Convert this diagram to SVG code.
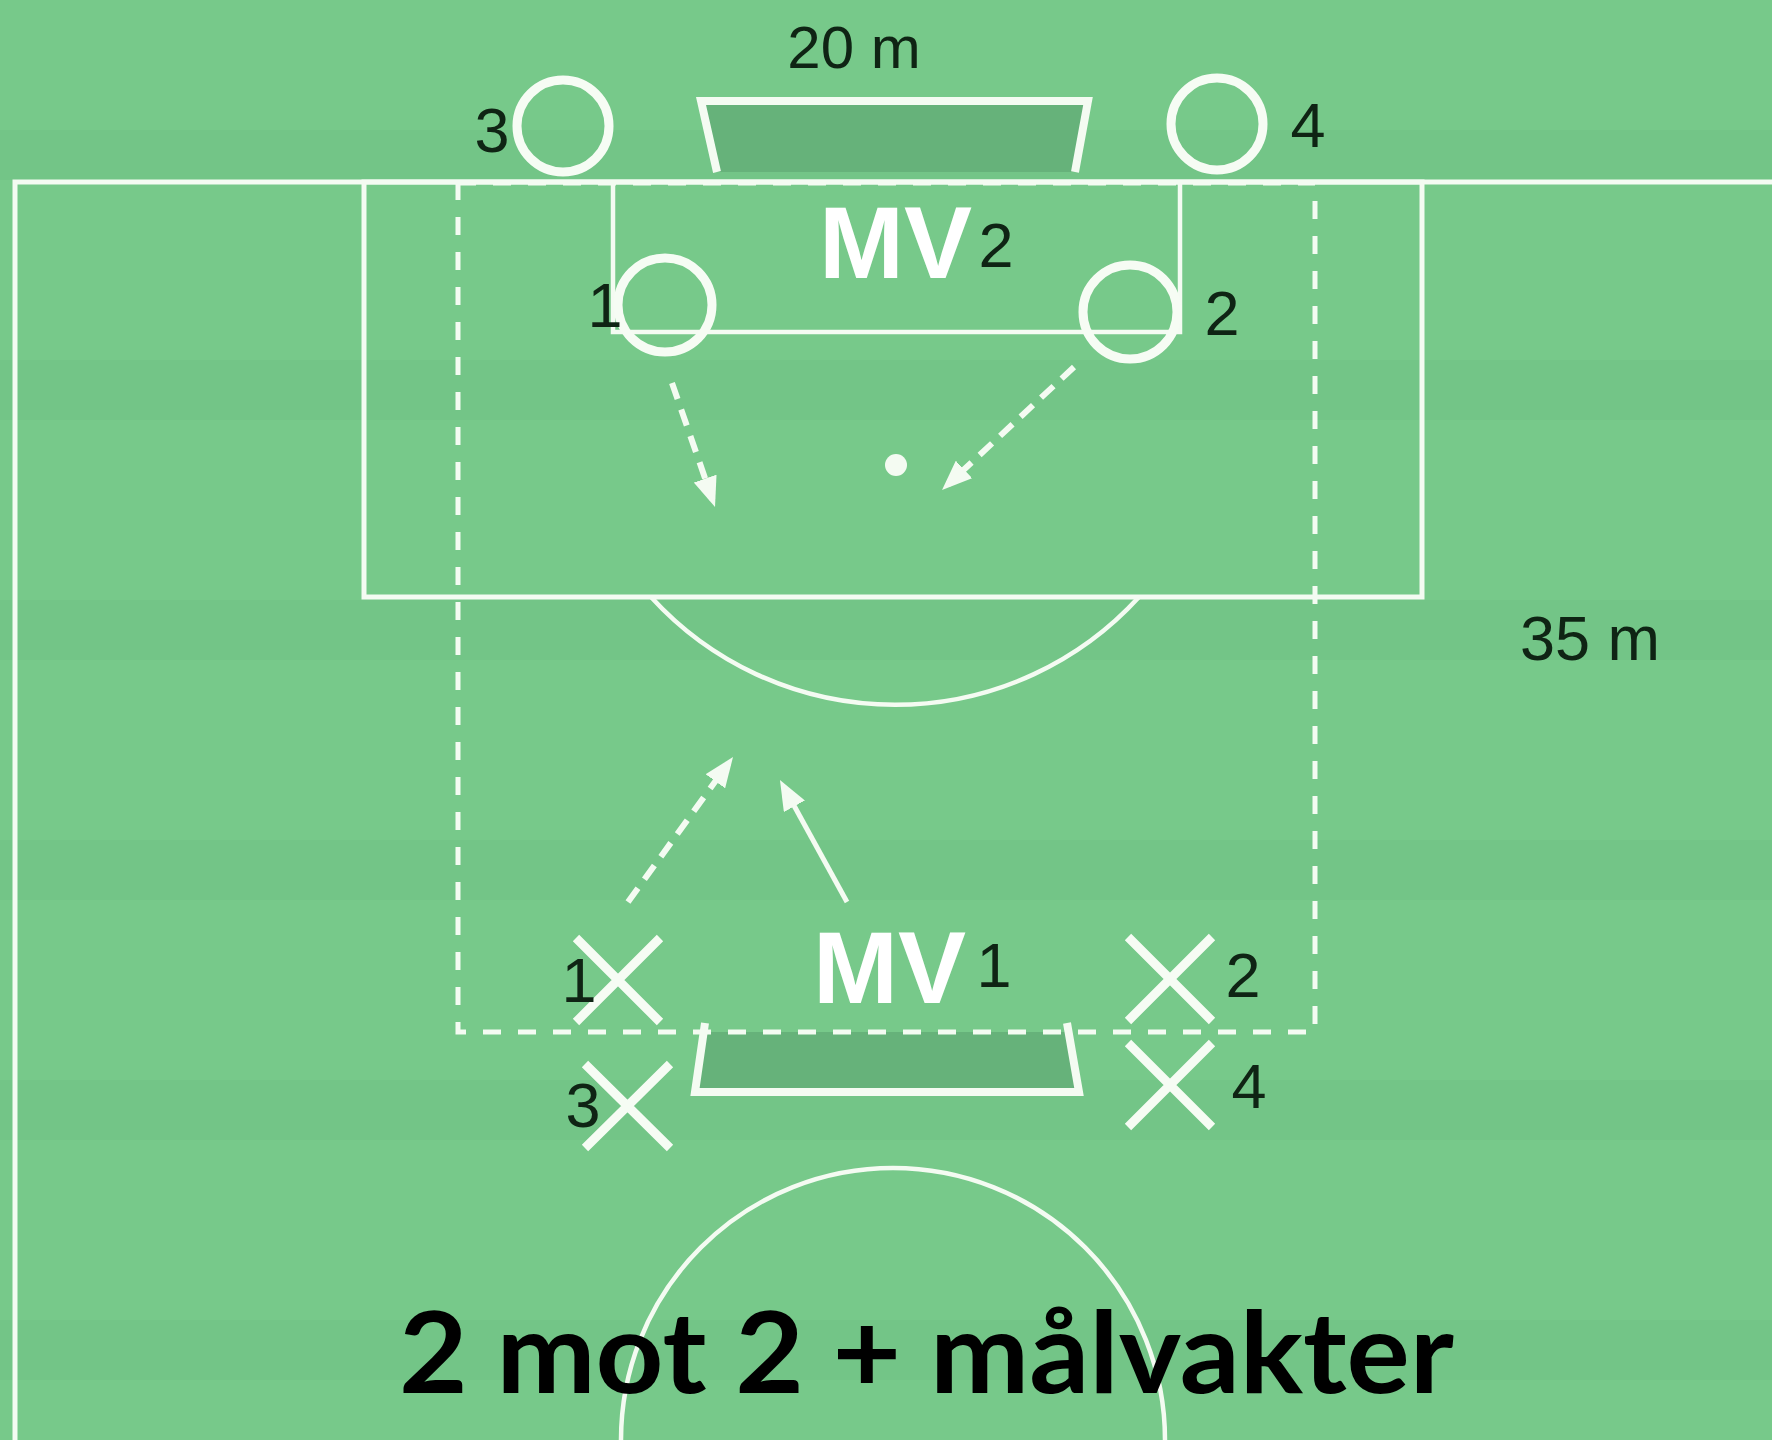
<svg xmlns="http://www.w3.org/2000/svg" width="1772" height="1440" viewBox="0 0 1772 1440">
  <defs>
    <style>
      .line { fill: none; stroke: #F4FBF2; stroke-width: 5; }
      .thin { fill: none; stroke: #F4FBF2; stroke-width: 4.5; }
      .dash { fill: none; stroke: #F4FBF2; stroke-width: 5; stroke-dasharray: 18 17; }
      .goal { fill: none; stroke: #F4FBF2; stroke-width: 8; stroke-linejoin: miter; }
      .ring { fill: none; stroke: #F6FCF4; stroke-width: 9; }
      .cross { stroke: #F6FCF4; stroke-width: 9; stroke-linecap: butt; }
      .num { font-family: "Liberation Sans", Arial, sans-serif; font-size: 63px; fill: #0F2414; text-anchor: middle; }
      .mv { font-family: "Liberation Sans", Arial, sans-serif; font-size: 102px; font-weight: bold; fill: #FFFFFF; }
      .dim { font-family: "Liberation Sans", Arial, sans-serif; font-size: 60px; fill: #0F2414; text-anchor: middle; }
      .title { font-family: Lato, "Liberation Sans", sans-serif; font-size: 113px; font-weight: bold; fill: #000000; }
      .move { fill: none; stroke: #F4FBF2; stroke-width: 6; stroke-dasharray: 17 11; }
      .run { fill: none; stroke: #F4FBF2; stroke-width: 5; }
    </style>
    <marker id="head" markerUnits="userSpaceOnUse" viewBox="0 0 30 24" markerWidth="30" markerHeight="24" refX="22" refY="12" orient="auto">
      <path d="M0,0 L30,12 L0,24 z" fill="#F4FBF2"/>
    </marker>
  </defs>

  <!-- background -->
  <rect x="0" y="0" width="1772" height="1440" fill="#77C98A"/>
  <g id="stripes" fill="#6FC183" opacity="0.45">
    <rect x="0" y="130" width="1772" height="50"/>
    <rect x="0" y="360" width="1772" height="60"/>
    <rect x="0" y="600" width="1772" height="60"/>
    <rect x="0" y="840" width="1772" height="60"/>
    <rect x="0" y="1080" width="1772" height="60"/>
    <rect x="0" y="1320" width="1772" height="60"/>
  </g>

  <!-- pitch markings -->
  <g id="pitch">
    <path class="line" d="M15,1440 L15,182 L1772,182"/>
    <rect class="line" x="364" y="182" width="1058" height="415"/>
    <path class="thin" d="M613,182 L613,332 L1180,332 L1180,182"/>
    <path class="thin" d="M651,597 A330,330 0 0 0 1139,597"/>
    <circle class="thin" cx="893" cy="1440" r="272"/>
    <circle cx="896" cy="465" r="11" fill="#F4FBF2"/>
  </g>

  <!-- goals -->
  <g id="goal-top">
    <path d="M697,101 L1092,101 L1075,172 L717,172 Z" fill="#66B27A"/>
    <path class="goal" d="M717,172 L701,101 L1088,101 L1075,172"/>
  </g>
  <g id="goal-bottom">
    <path d="M705,1032 L1065,1032 L1077,1092 L693,1092 Z" fill="#66B27A"/>
    <path class="goal" d="M705,1023 L695,1092 L1079,1092 L1067,1023"/>
  </g>

  <!-- dashed playing area -->
  <g id="area">
    <rect class="dash" x="458" y="183" width="857" height="849"/>
  </g>

  <!-- defenders (circles) -->
  <g id="o3"><circle class="ring" cx="563" cy="126" r="46"/><text class="num" x="492" y="152">3</text></g>
  <g id="o4"><circle class="ring" cx="1217" cy="124" r="46"/><text class="num" x="1308" y="147">4</text></g>
  <g id="o1"><circle class="ring" cx="665" cy="305" r="47"/><text class="num" x="605" y="327">1</text></g>
  <g id="o2"><circle class="ring" cx="1130" cy="312" r="47"/><text class="num" x="1222" y="335">2</text></g>

  <!-- goalkeepers -->
  <g id="mv2"><text class="mv" x="819" y="278">MV</text><text class="num" x="996" y="267">2</text></g>
  <g id="mv1"><text class="mv" x="813" y="1003">MV</text><text class="num" x="994" y="987">1</text></g>

  <!-- attackers (crosses) -->
  <g id="x1"><path class="cross" d="M576,938 L660,1022 M660,938 L576,1022"/><text class="num" x="579" y="1002">1</text></g>
  <g id="x2"><path class="cross" d="M1128,937 L1212,1021 M1212,937 L1128,1021"/><text class="num" x="1243" y="997">2</text></g>
  <g id="x3"><path class="cross" d="M585,1064 L670,1148 M670,1064 L585,1148"/><text class="num" x="583" y="1127">3</text></g>
  <g id="x4"><path class="cross" d="M1128,1043 L1212,1127 M1212,1043 L1128,1127"/><text class="num" x="1249" y="1108">4</text></g>

  <!-- connectors -->
  <g id="connectors">
    <line class="move" x1="672" y1="383" x2="712.4" y2="499.4" marker-end="url(#head)"/>
    <line class="move" x1="1074" y1="367" x2="947.9" y2="484.5" marker-end="url(#head)"/>
    <line class="move" x1="628" y1="902" x2="728.3" y2="763.5" marker-end="url(#head)"/>
    <line class="run" x1="847" y1="902" x2="783.8" y2="787" marker-end="url(#head)"/>
  </g>

  <!-- dimension labels -->
  <text class="dim" x="854" y="68">20 m</text>
  <text class="dim" x="1590" y="660" style="font-size:63px">35 m</text>

  <!-- title -->
  <text class="title" x="399" y="1393" textLength="1055" lengthAdjust="spacingAndGlyphs">2 mot 2 + målvakter</text>
</svg>
